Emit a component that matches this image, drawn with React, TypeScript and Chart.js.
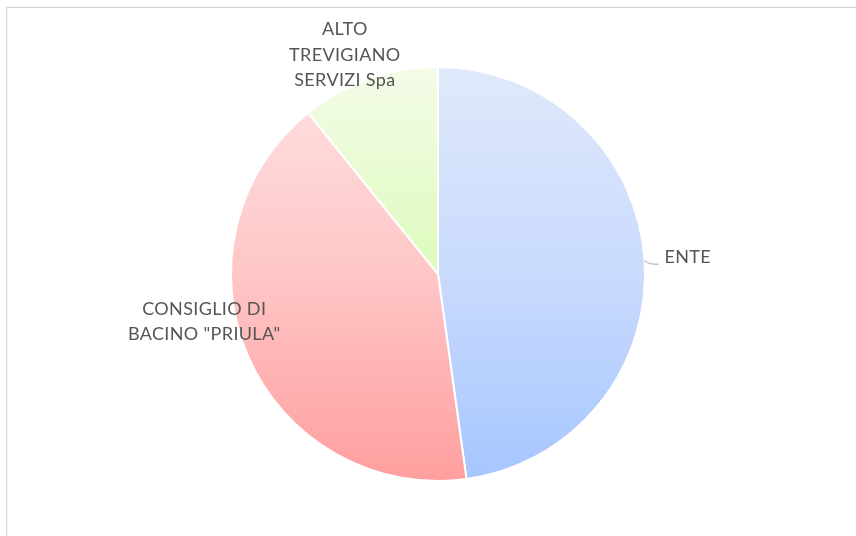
import React, { useEffect, useRef } from "react";
import { Chart, registerables } from "chart.js";

Chart.register(...registerables);

const categories = ["ENTE", 'CONSIGLIO DI BACINO "PRIULA"', "ALTO TREVIGIANO SERVIZI Spa"];
const values = [47.8, 41.4, 10.8];
const labelLines = [["ENTE"], ["CONSIGLIO DI", 'BACINO "PRIULA"'], ["ALTO", "TREVIGIANO", "SERVIZI Spa"]];

// styling (not data)
const gradientStops = [
  ["#e0e9fb", "#c9dafd", "#a6c6ff"],
  ["#ffe2e2", "#ffc6c6", "#ff9e9e"],
  ["#f4fbe8", "#ddfbbc", "#c9f792"],
];
const labelStyle = [
  { align: "left", gap: 21, dx: -1, dy: -2, leader: true },
  { align: "center", gap: 22, dx: -23.6, dy: -43.8, leader: false },
  { align: "center", gap: 32, dx: -13.6, dy: 5.6, leader: false },
];

export default function App() {
  const ref = useRef<HTMLCanvasElement | null>(null);
  useEffect(() => {
    const canvas = ref.current;
    if (!canvas) return;

    const framePlugin = {
      id: "frame",
      beforeDraw(chart: any) {
        const c = chart.ctx;
        c.save();
        c.fillStyle = "#ffffff";
        c.fillRect(0, 0, chart.width, chart.height);
        c.strokeStyle = "#d6d6d6";
        c.lineWidth = 1.3;
        c.beginPath();
        c.moveTo(6.6, chart.height);
        c.lineTo(6.6, 7.4);
        c.lineTo(chart.width, 7.4);
        c.stroke();
        c.restore();
      },
    };

    const labelPlugin = {
      id: "sliceLabels",
      afterDraw(chart: any) {
        const c = chart.ctx;
        const meta = chart.getDatasetMeta(0);
        const fontSize = 18;
        const lh = 25.4;
        const capH = 12.8;
        c.save();
        c.font = `${fontSize}px Lato`;
        try { (c as any).letterSpacing = "0.35px"; } catch (e) {}
        c.fillStyle = "#555555";
        c.textBaseline = "alphabetic";
        meta.data.forEach((arc: any, i: number) => {
          const p = arc.getProps(["x", "y", "startAngle", "endAngle", "outerRadius"], true);
          const mid = (p.startAngle + p.endAngle) / 2;
          const st = labelStyle[i];
          const ax = p.x + Math.cos(mid) * (p.outerRadius + st.gap) + st.dx;
          const ay = p.y + Math.sin(mid) * (p.outerRadius + st.gap) + st.dy;
          const lines = labelLines[i];
          c.textAlign = st.align;
          lines.forEach((ln: string, k: number) => {
            const by = ay + (k - (lines.length - 1) / 2) * lh + capH / 2;
            c.fillText(ln, ax, by);
          });
          if (st.leader) {
            const ex = p.x + Math.cos(mid) * p.outerRadius;
            const ey = p.y + Math.sin(mid) * p.outerRadius;
            c.strokeStyle = "#bfbfbf";
            c.lineWidth = 1.4;
            c.beginPath();
            c.moveTo(ex, ey + 1);
            c.quadraticCurveTo(ex + 5, ey + 5, ax - 6, ey + 4.5);
            c.stroke();
          }
        });
        c.restore();
      },
    };

    const chart = new Chart(canvas, {
      type: "pie",
      data: {
        labels: categories,
        datasets: [
          {
            data: values,
            backgroundColor: (ctx: any) => {
              const ch = ctx.chart;
              const area = ch.chartArea;
              const idx = ctx.dataIndex ?? 0;
              const stops = gradientStops[idx % gradientStops.length];
              if (!area) return stops[1];
              const g = ch.ctx.createLinearGradient(0, area.top, 0, area.bottom);
              g.addColorStop(0, stops[0]);
              g.addColorStop(0.5, stops[1]);
              g.addColorStop(1, stops[2]);
              return g;
            },
            borderColor: "#ffffff",
            borderWidth: 2,
            hoverOffset: 0,
          },
        ],
      },
      options: {
        responsive: false,
        animation: false,
        layout: { padding: { left: 230, right: 210, top: 66, bottom: 54 } },
        plugins: {
          legend: { display: false },
          tooltip: { enabled: false },
          title: { display: false },
        },
      },
      plugins: [framePlugin, labelPlugin],
    });
    return () => chart.destroy();
  }, []);

  return (
    <div style={{ position: "fixed", left: 0, top: 0, width: 856, height: 536, background: "#fff" }}>
      <canvas ref={ref} width={856} height={536} style={{ width: 856, height: 536, display: "block" }} />
    </div>
  );
}
